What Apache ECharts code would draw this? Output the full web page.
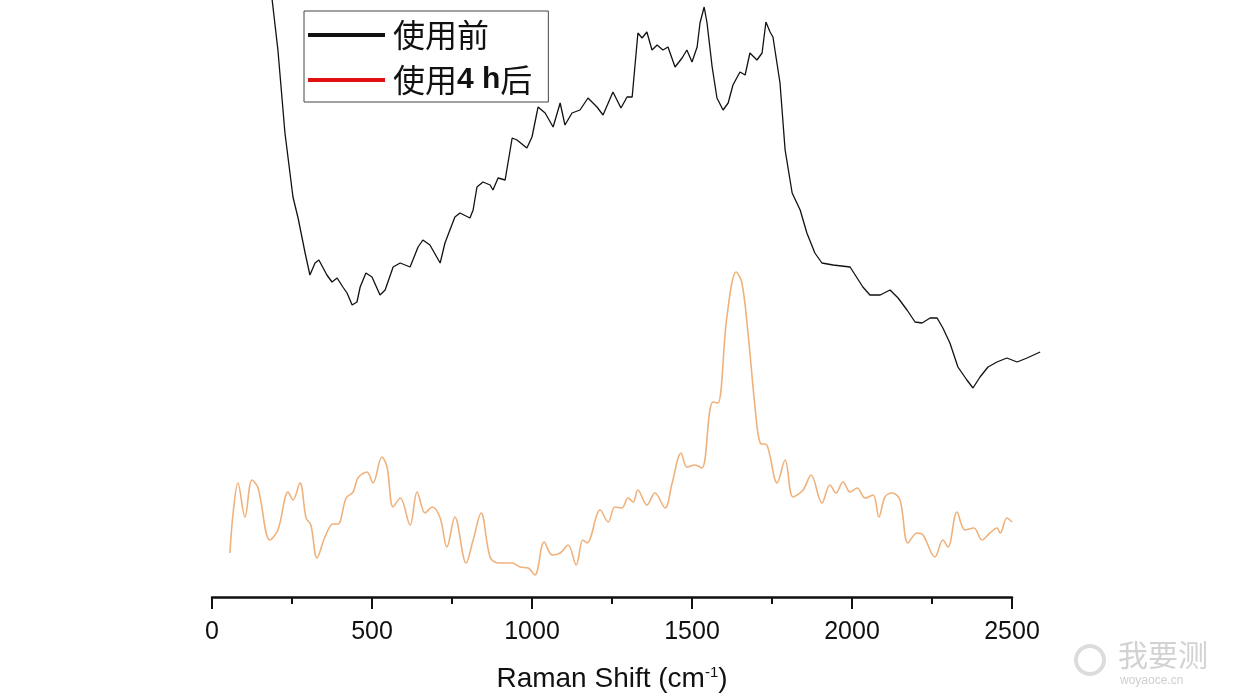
<!DOCTYPE html>
<html>
<head>
<meta charset="utf-8">
<script src="https://cdn.jsdelivr.net/npm/echarts@6/dist/echarts.min.js"></script>
<style>
  html, body { margin: 0; padding: 0; background: #fff; }
  #main { width: 1242px; height: 698px; }
</style>
</head>
<body>
<div id="main"></div>
<script>
// Raman 位移 (cm-1) 与强度 (任意单位)
var beforeShift = [175, 188, 206, 228, 253, 269, 291, 306, 322, 334, 359, 375, 391, 409, 422, 438, 453, 463, 481, 500,
  525, 541, 566, 588, 619, 644, 659, 681, 713, 728, 759, 775, 806, 816, 828, 847, 869, 878, 894, 916,
  938, 953, 984, 1000, 1019, 1041, 1066, 1088, 1103, 1125, 1150, 1175, 1203, 1222, 1253, 1278, 1297, 1313, 1331, 1344,
  1359, 1375, 1391, 1409, 1425, 1447, 1469, 1484, 1500, 1516, 1525, 1538, 1547, 1563, 1578, 1597, 1613, 1628, 1650, 1666,
  1681, 1703, 1719, 1731, 1744, 1753, 1775, 1791, 1813, 1838, 1859, 1884, 1906, 1941, 1994, 2034, 2056, 2088, 2119, 2144,
  2172, 2197, 2219, 2244, 2266, 2284, 2306, 2331, 2359, 2378, 2400, 2425, 2453, 2484, 2516, 2547, 2588];
var beforeIntensity = [660, 597, 547, 464, 400, 379, 344, 322, 334, 337, 322, 315, 319, 310, 304, 292, 295, 310, 324, 320,
  302, 307, 330, 334, 330, 350, 357, 352, 334, 354, 380, 384, 379, 387, 410, 415, 412, 407, 419, 417,
  459, 457, 449, 460, 490, 484, 470, 494, 472, 484, 487, 499, 490, 482, 505, 489, 500, 500, 564, 559,
  565, 547, 552, 547, 550, 530, 539, 547, 535, 550, 574, 590, 574, 530, 499, 487, 494, 512, 525, 522,
  544, 537, 544, 575, 565, 560, 514, 447, 404, 387, 364, 344, 334, 332, 330, 310, 302, 302, 307, 299,
  287, 275, 274, 279, 279, 269, 254, 230, 217, 209, 220, 230, 235, 239, 235, 239, 245];

var afterShift = [56, 66, 81, 103, 125, 144, 181, 206, 238, 253, 275, 294, 309, 328, 353, 378, 394, 419, 441, 456,
  484, 503, 531, 547, 566, 588, 619, 641, 666, 688, 713, 734, 759, 794, 816, 841, 869, 894, 938, 963,
  988, 1009, 1038, 1063, 1088, 1113, 1138, 1159, 1172, 1213, 1238, 1259, 1281, 1300, 1316, 1331, 1359, 1384, 1416, 1438,
  1466, 1484, 1509, 1531, 1556, 1566, 1581, 1609, 1638, 1656, 1675, 1697, 1713, 1734, 1766, 1791, 1816, 1847, 1872, 1906,
  1931, 1950, 1972, 1994, 2016, 2041, 2066, 2084, 2103, 2125, 2150, 2175, 2203, 2222, 2259, 2284, 2300, 2328, 2353, 2381,
  2406, 2431, 2453, 2463, 2484, 2500];
var afterIntensity = [44, 84, 114, 80, 117, 109, 57, 67, 105, 97, 114, 79, 72, 39, 60, 73, 73, 99, 105, 119,
  125, 114, 140, 130, 90, 99, 72, 105, 84, 90, 79, 50, 80, 34, 57, 84, 40, 34, 34, 30,
  29, 22, 55, 42, 44, 52, 32, 57, 54, 87, 75, 90, 89, 99, 95, 107, 92, 104, 89, 114,
  144, 130, 132, 129, 187, 195, 194, 280, 325, 314, 264, 190, 154, 152, 114, 137, 100, 107, 122, 94,
  112, 104, 115, 105, 109, 99, 102, 80, 100, 104, 97, 54, 64, 62, 40, 57, 50, 85, 67, 69,
  57, 64, 69, 64, 79, 75];

var xTicks = [0, 500, 1000, 1500, 2000, 2500];

function pairs(xs, ys) {
  return xs.map(function (x, i) { return [x, ys[i]]; });
}

var myChart = echarts.init(document.getElementById('main'));
myChart.setOption({
  backgroundColor: '#fff',
  animation: false,
  // grid 0: 可见坐标轴 0-2500；grid 1: 同比例尺，延伸到 2590，给"使用前"曲线用
  grid: [
    { left: 212, width: 800, top: 0, bottom: 101 },
    { left: 212, width: 828.8, top: 0, bottom: 101 }
  ],
  legend: {
    orient: 'vertical',
    left: 304,
    top: 11,
    padding: [8, 16, 6, 4],
    itemGap: 13,
    itemWidth: 77,
    itemHeight: 4,
    borderColor: '#444',
    borderWidth: 1,
    borderRadius: 0,
    textStyle: {
      fontSize: 32, color: '#111', fontFamily: 'Noto Sans CJK SC', padding: [0, 0, 0, 3],
      rich: { b: { fontSize: 30, fontWeight: 'bold', color: '#111', fontFamily: 'Liberation Sans' } }
    },
    formatter: function (name) {
      return name === '使用4 h后' ? '使用{b|4 h}后' : name;
    },
    data: [
      { name: '使用前', icon: 'rect', itemStyle: { color: '#111' } },
      { name: '使用4 h后', icon: 'rect', itemStyle: { color: '#e01010' } }
    ]
  },
  xAxis: [
    {
      gridIndex: 0,
      type: 'value',
      min: 0,
      max: 2500,
      interval: 500,
      name: 'Raman Shift (cm{sup|-1})',
      nameLocation: 'middle',
      nameGap: 68,
      nameTextStyle: {
        fontSize: 28,
        color: '#111',
        fontFamily: 'Liberation Sans',
        rich: { sup: { fontSize: 15, verticalAlign: 'top', padding: [0, 0, 12, 0], color: '#111', fontFamily: 'Liberation Sans' } }
      },
      axisLine: { show: true, onZero: false, lineStyle: { color: '#111', width: 2.5 } },
      axisTick: { show: true, inside: false, length: 12, lineStyle: { color: '#111', width: 2 } },
      minorTick: { show: true, splitNumber: 2, length: 7, lineStyle: { color: '#111', width: 2 } },
      splitLine: { show: false },
      axisLabel: {
        fontSize: 25,
        color: '#111',
        margin: 23,
        fontFamily: 'Liberation Sans',
        customValues: xTicks,
        formatter: function (v) { return String(v); }
      }
    },
    {
      gridIndex: 1,
      type: 'value',
      min: 0,
      max: 2590,
      show: false,
      splitLine: { show: false }
    }
  ],
  yAxis: [
    { gridIndex: 0, type: 'value', min: 0, max: 597, show: false, splitLine: { show: false } },
    { gridIndex: 1, type: 'value', min: 0, max: 597, show: false, splitLine: { show: false } }
  ],
  series: [
    {
      name: '使用前',
      type: 'line',
      xAxisIndex: 1,
      yAxisIndex: 1,
      symbol: 'none',
      clip: false,
      data: pairs(beforeShift, beforeIntensity),
      lineStyle: { color: '#111', width: 1.3 },
      itemStyle: { color: '#111' }
    },
    {
      name: '使用4 h后',
      type: 'line',
      xAxisIndex: 0,
      yAxisIndex: 0,
      symbol: 'none',
      smooth: 0.35,
      clip: false,
      data: pairs(afterShift, afterIntensity),
      lineStyle: { color: '#efb27c', width: 1.6 },
      itemStyle: { color: '#e01010' }
    }
  ],
  graphic: [
    {
      type: 'text', left: 1118, top: 640,
      style: { text: '我要测', fontSize: 30, fill: '#d2d2d2', fontFamily: 'Noto Sans CJK SC' }
    },
    {
      type: 'text', left: 1120, top: 675,
      style: { text: 'woyaoce.cn', fontSize: 12, fill: '#cfcfcf', fontFamily: 'Liberation Sans' }
    },
    {
      type: 'circle', shape: { cx: 1090, cy: 660, r: 14 },
      style: { fill: 'none', stroke: '#dcdcdc', lineWidth: 4 }
    }
  ]
});
</script>
</body>
</html>
